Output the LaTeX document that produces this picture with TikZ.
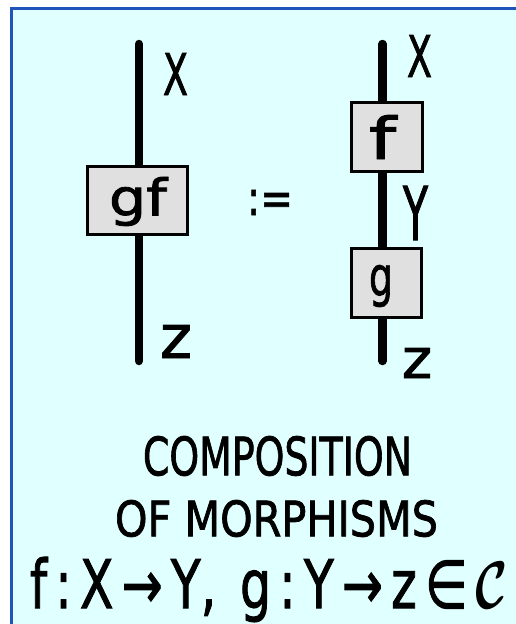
\documentclass[tikz,border=0pt]{standalone}
\usepackage{fontspec}
\setmainfont{DejaVu Sans}
\newfontfamily\hand{DejaVu Sans}[FakeBold=1.6]
\usepackage{graphicx}
\definecolor{bgc}{RGB}{224,255,255}
\definecolor{framec}{RGB}{32,84,186}
\definecolor{boxc}{RGB}{224,224,224}
\newcommand{\hw}[3]{\resizebox*{#1pt}{#2pt}{\hand\boldmath #3}}
\pgfdeclarelayer{bg}
\pgfsetlayers{bg,main}
\tikzset{
  wire/.style={line width=8.5pt, line cap=round, draw=black},
  morph/.style={draw=black, line width=3pt, fill=boxc, inner sep=0pt},
  lab/.style={inner sep=0pt, outer sep=0pt, anchor=center}
}
\begin{document}
\begin{tikzpicture}[x=1pt,y=-1pt]
\begin{pgfonlayer}{bg}
\useasboundingbox (0,0) rectangle (515,624);
\fill[white] (0,0) rectangle (515,624);
\draw[line width=3.2pt, draw=framec, fill=bgc] (11.5,8.8) rectangle (560,660);
\end{pgfonlayer}

% left diagram
\coordinate (lt) at (139,44);
\coordinate (lb) at (139,361);
\node[morph, minimum width=100pt, minimum height=68pt] (gf) at (137,200) {};
\node[lab] (gft) at (138,201.5) {\hw{58}{49}{gf}};
\node[lab] (xl) at (175.5,74) {\hw{25}{42}{X}};
\node[lab] (zl) at (176,341.5) {\hw{32}{33}{z}};

% definition sign
\node[lab] (def) at (270,202.5) {\hw{46}{25}{:=}};

% right diagram
\coordinate (rt) at (382.5,44);
\coordinate (rb) at (382.5,361);
\node[morph, minimum width=71pt, minimum height=69pt] (fb) at (386.5,136.5) {};
\node[morph, minimum width=70pt, minimum height=69pt] (gb) at (386,282.5) {};
\node[lab] (ft) at (382.5,137) {\hw{27}{44}{f}};
\node[lab] (gt) at (381,286) {\hw{24}{42}{g}};
\node[lab] (xr) at (419.5,56) {\hw{25}{42}{X}};
\node[lab] (yr) at (415.5,213) {\hw{25}{54}{Y}};
\node[lab] (zr) at (417,363) {\hw{30}{30}{z}};

\begin{pgfonlayer}{bg}
\draw[wire] (lt) -- (lt |- gf.center) -- (lb);
\draw[wire] (rt) -- (rt |- fb.center) -- (rt |- gb.center) -- (rb);
\end{pgfonlayer}

% caption
\node[lab] (c1) at (277.5,456) {\hw{269}{40}{COMPOSITION}};
\node[lab] (c2) at (276.5,518.5) {\hw{323}{37}{OF MORPHISMS}};
\node[lab] (c3) at (269,589.5) {\hw{478}{65}{f\,:\,X\,→\,Y,\, g\,:\,Y\,→\,z\,∈\,$\mathcal{C}$}};
\end{tikzpicture}
\end{document}
